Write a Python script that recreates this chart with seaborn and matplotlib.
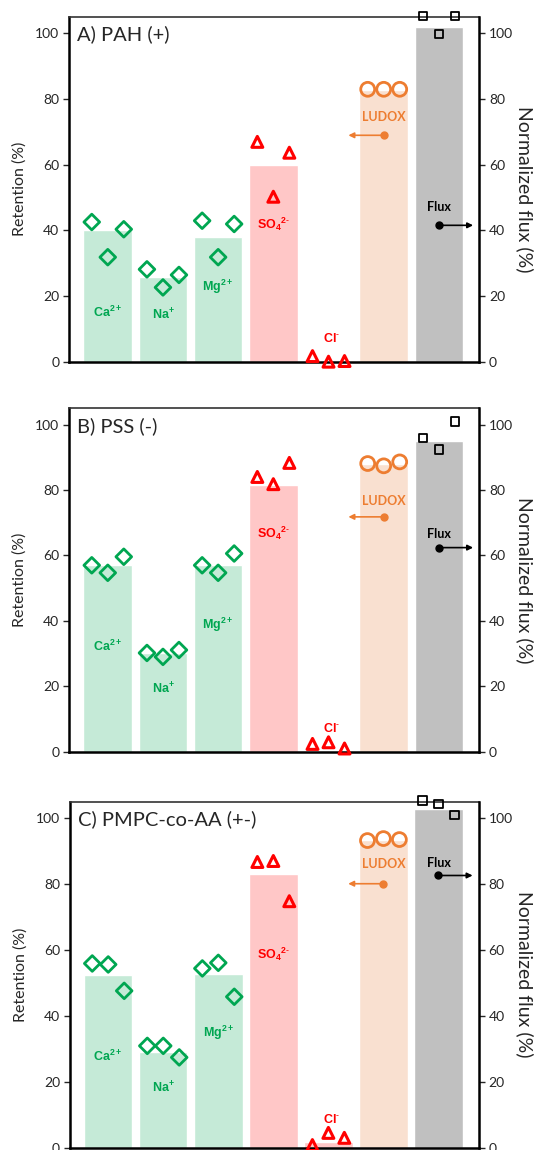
import numpy as np
import pandas as pd
import matplotlib
matplotlib.use('Agg')
import matplotlib.pyplot as plt
import seaborn as sns

sns.set_style('white')
plt.rcParams['font.family'] = ['Lato', 'DejaVu Sans']
plt.rcParams['mathtext.fontset'] = 'custom'
plt.rcParams['mathtext.rm'] = 'Liberation Sans'
plt.rcParams['mathtext.bf'] = 'Liberation Sans:bold'

ions = ['Ca', 'Na', 'Mg', 'SO4', 'Cl', 'LUDOX', 'Flux']
titles = ['A) PAH (+)', 'B) PSS (-)', 'C) PMPC-co-AA (+-)']

# bar heights (%)
bars_A = [40.0, 25.8, 37.9, 59.9, 0.0, 82.6, 102.0]
bars_B = [57.0, 30.2, 57.0, 81.5, 0.0, 88.1, 94.9]
bars_C = [52.3, 28.9, 52.6, 83.1, 1.8, 93.5, 102.8]

# replicate measurements (%)
reps_A = [[42.5, 31.8, 40.3], [28.1, 22.6, 26.4], [42.9, 31.8, 41.9],
          [66.9, 50.2, 63.6], [1.7, 0.0, 0.2], [82.9, 82.9, 82.9],
          [105.3, 99.8, 105.3]]
reps_B = [[57.0, 54.7, 59.6], [30.2, 29.0, 31.1], [57.0, 54.7, 60.6],
          [84.0, 81.8, 88.3], [2.4, 2.9, 1.0], [88.1, 87.4, 88.6],
          [95.9, 92.4, 101.0]]
reps_C = [[55.9, 55.6, 47.6], [30.9, 30.9, 27.4], [54.4, 56.1, 45.8],
          [86.7, 87.0, 74.8], [0.8, 4.5, 3.0], [93.2, 93.8, 93.5],
          [105.4, 104.2, 101.0]]

labels = [r'Ca$^{\mathbf{2+}}$', r'Na$^{\mathbf{+}}$', r'Mg$^{\mathbf{2+}}$',
          r'SO$_{\mathbf{4}}$$^{\mathbf{2\text{-}}}$', r'Cl$^{\mathbf{\text{-}}}$', 'LUDOX', 'Flux']

# label heights per panel, and arrow heights for LUDOX / Flux
label_y = [[15.0, 14.3, 22.7, 41.9, 7.2, 74.5, 47.0],
           [32.1, 19.1, 38.9, 66.7, 7.1, 76.7, 66.5],
           [27.8, 18.0, 34.7, 58.6, 8.6, 86.2, 86.4]]
arrow_y = [[68.9, 41.5], [71.8, 62.4], [80.1, 82.6]]

green, green_bar = '#00a651', '#c5ead7'
red, red_bar = '#ff0000', '#ffc7c7'
orange, orange_bar = '#ed7d31', '#f9e0d0'
black, grey_bar = '#000000', '#c0c0c0'

bar_pal = dict(zip(ions, [green_bar, green_bar, green_bar, red_bar, red_bar, orange_bar, grey_bar]))
mk_col = [green, green, green, red, red, orange, black]
mk_sym = ['D', 'D', 'D', '^', '^', 'o', 's']
mk_size = [64, 64, 64, 62, 62, 100, 36]
mk_lw = [2.0, 2.0, 2.0, 2.2, 2.2, 2.0, 1.3]
txt_col = [green, green, green, red, red, orange, black]

fig = plt.figure(figsize=(5.36, 11.5), dpi=100)
boxes = [[0.129, 0.6855, 0.765, 0.300],
         [0.129, 0.3463, 0.765, 0.2987],
         [0.130, 0.0020, 0.763, 0.3009]]

for k, (bars, reps) in enumerate(zip([bars_A, bars_B, bars_C], [reps_A, reps_B, reps_C])):
    ax = fig.add_axes(boxes[k])
    df = pd.DataFrame({'pos': np.arange(len(ions)), 'ion': ions, 'val': bars})
    sns.barplot(data=df, x='pos', y='val', hue='ion', palette=bar_pal,
                native_scale=True, dodge=False, width=0.88, saturation=1,
                legend=False, errorbar=None, ax=ax)

    for i, ion in enumerate(ions):
        pts = pd.DataFrame({'x': i + np.array([-0.29, 0.0, 0.29]), 'y': reps[i]})
        sns.scatterplot(data=pts, x='x', y='y', marker=mk_sym[i], s=mk_size[i],
                        facecolor='none', edgecolor=mk_col[i], linewidth=mk_lw[i],
                        clip_on=False, zorder=5, ax=ax)
        if ion == 'SO4':
            lx = 3.0
        elif ion == 'Cl':
            lx = 4.05
        else:
            lx = i
        if ion in ('LUDOX', 'Flux'):
            ax.text(lx, label_y[k][i], labels[i], color=txt_col[i], fontsize=9,
                    fontweight='bold', ha='center', va='center')
        else:
            ax.text(lx, label_y[k][i], labels[i], color=txt_col[i], fontsize=9,
                    fontweight='bold', ha='center', va='center', family='Liberation Sans')

    # arrows pointing to the axis each series belongs to
    ya, yf = arrow_y[k]
    ax.annotate('', xy=(4.36, ya), xytext=(5.0, ya),
                arrowprops=dict(arrowstyle='-|>', color=orange, lw=1.2, mutation_scale=8,
                                shrinkA=0, shrinkB=0))
    ax.plot([5.0], [ya], 'o', color=orange, ms=5)
    ax.annotate('', xy=(6.62, yf), xytext=(6.0, yf),
                arrowprops=dict(arrowstyle='-|>', color=black, lw=1.2, mutation_scale=8,
                                shrinkA=0, shrinkB=0))
    ax.plot([6.0], [yf], 'o', color=black, ms=5)

    ax.text(0.02, 0.975, titles[k], transform=ax.transAxes, fontsize=14.5,
            ha='left', va='top')

    ax.set_xlim(-0.70, 6.73)
    ax.set_ylim(0, 105)
    ax.set_yticks(range(0, 101, 20))
    ax.set_xticks([])
    ax.set_xlabel('')
    ax.set_ylabel('Retention (%)', fontsize=11.5, labelpad=6)
    ax.tick_params(axis='y', direction='out', length=4, width=1, labelsize=10,
                   left=True, pad=3)
    for side in ['left', 'bottom']:
        ax.spines[side].set_linewidth(1.8)
        ax.spines[side].set_color('black')
    ax.spines['top'].set_linewidth(1.2)
    ax.spines['top'].set_color('#333333')
    ax.spines['right'].set_visible(False)

    ax2 = ax.twinx()
    ax2.set_ylim(0, 105)
    ax2.set_yticks(range(0, 101, 20))
    ax2.set_ylabel('Normalized flux (%)', fontsize=14, rotation=270, labelpad=15)
    ax2.tick_params(axis='y', direction='out', length=4, width=1, labelsize=10,
                    right=True, pad=3)
    ax2.spines['right'].set_linewidth(1.8)
    ax2.spines['right'].set_color('black')
    for side in ['left', 'top', 'bottom']:
        ax2.spines[side].set_visible(False)

fig.savefig('out.png', dpi=100)
